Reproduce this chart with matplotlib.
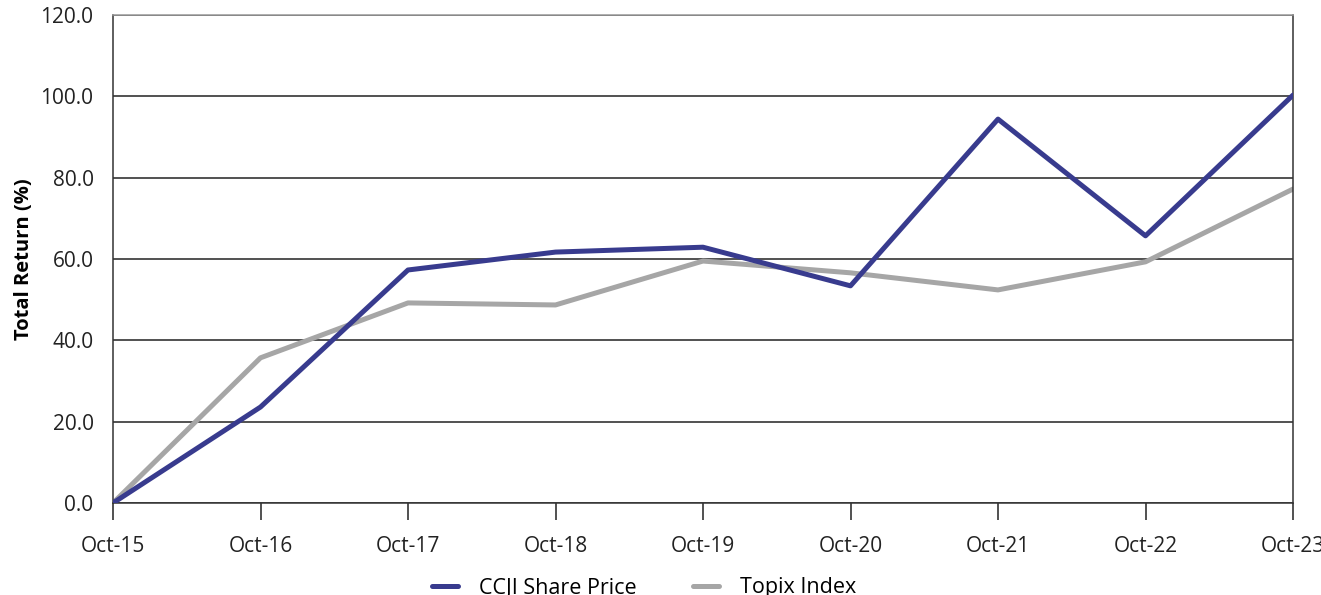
import matplotlib
matplotlib.use("Agg")
from matplotlib import pyplot as plt

years = ["Oct-15", "Oct-16", "Oct-17", "Oct-18", "Oct-19",
         "Oct-20", "Oct-21", "Oct-22", "Oct-23"]
ccji = [0.0, 23.6, 57.3, 61.7, 62.9, 53.4, 94.4, 65.7, 100.3]
topix = [0.0, 35.7, 49.2, 48.7, 59.5, 56.6, 52.4, 59.3, 77.2]

plt.rcParams['font.family'] = ['Open Sans', 'DejaVu Sans']

fig = plt.figure(figsize=(13.21, 5.95), dpi=100)
ax = fig.add_axes([113 / 1321, 1 - 503 / 595, 1180 / 1321, 488 / 595])

x = list(range(len(years)))
ax.plot(x, ccji, color='#383b8e', linewidth=3.6, label='CCJI Share Price',
        solid_capstyle='round', zorder=3)
ax.plot(x, topix, color='#a6a6a6', linewidth=3.6, label='Topix Index',
        solid_capstyle='round', zorder=2)

ax.set_xlim(0, len(years) - 1)
ax.set_ylim(0, 120)
ax.set_yticks(range(0, 121, 20))
ax.set_yticklabels([f"{v:.1f}" for v in range(0, 121, 20)])
ax.set_xticks(x)
ax.set_xticklabels(years)
ax.grid(axis='y', color='#222222', linewidth=1.1)
ax.set_axisbelow(True)

for s in ax.spines.values():
    s.set_color('#333333')
    s.set_linewidth(1.1)
ax.spines['top'].set_color('#999999')

ax.tick_params(axis='y', length=0, pad=14, labelsize=15, colors='#222222')
ax.tick_params(axis='x', length=12, width=1.1, pad=12, labelsize=15,
               colors='#222222', direction='out')
ax.set_ylabel('Total Return (%)', fontsize=14.5, fontweight='bold', labelpad=5)

fig.legend(loc='center', bbox_to_anchor=(644 / 1321, 1 - 588 / 595), ncol=2,
           frameon=False, fontsize=15.5, handlelength=1.2, columnspacing=2.6,
           handletextpad=1.0)

fig.savefig("out.png", dpi=100)
